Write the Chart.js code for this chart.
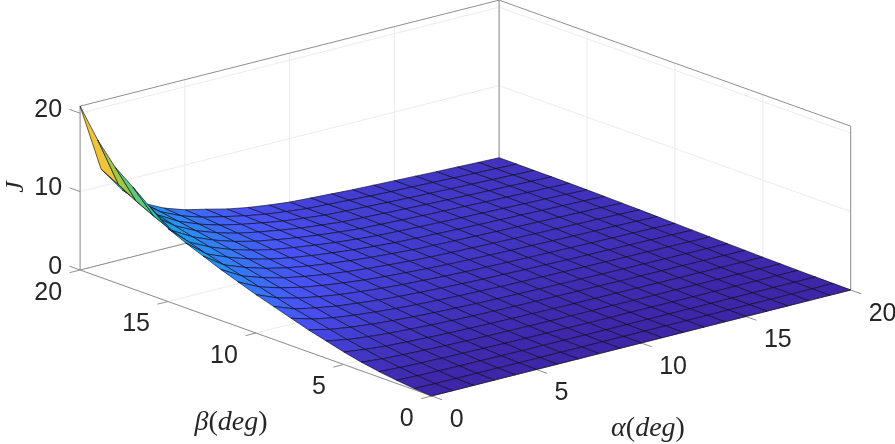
<!DOCTYPE html>
<html><head><meta charset="utf-8">
<style>html,body{margin:0;padding:0;background:#fff}canvas{display:block}</style>
<script src="https://cdn.jsdelivr.net/npm/chart.js@4"></script>
</head><body><canvas id="c" width="895" height="444"></canvas>
<script>
const alphaTicks=[0,5,10,15,20];
const betaTicks=[0,5,10,15,20];
const zTicks=[0,10,20];
const zTop=20.9;
// J[a][b]: a = alpha index 0..20, b = beta index 0..20
const J=[
[0,.15,.4,.7,1.1,1.6,2.2,2.8,3.5,4.2,4.9,5.7,6.5,7.4,8.3,9.3,11.2,13,14.7,17.4,20.9],
[0,.1,.3,.55,.85,1.25,1.7,2.2,2.7,3.2,3.8,4.4,5,5.6,6.2,6.9,7.6,8.6,9.7,11,12.2],
[0,.08,.25,.45,.7,1,1.4,1.8,2.2,2.65,3.1,3.6,4.1,4.6,5.1,5.6,6.1,6.7,7.3,8.1,8.9],
[0,.07,.2,.38,.6,.85,1.15,1.5,1.85,2.2,2.6,3,3.4,3.8,4.2,4.6,5,5.4,5.8,6.2,6.5],
[0,.06,.18,.33,.5,.72,1,1.28,1.58,1.9,2.2,2.55,2.9,3.2,3.5,3.85,4.15,4.45,4.75,5,5.2],
[0,.05,.15,.28,.43,.62,.85,1.1,1.35,1.62,1.9,2.2,2.48,2.75,3,3.25,3.5,3.72,3.95,4.15,4.3],
[0,.05,.13,.24,.38,.55,.75,.95,1.18,1.42,1.65,1.9,2.15,2.38,2.6,2.82,3.02,3.2,3.38,3.55,3.7],
[0,.04,.12,.22,.34,.49,.66,.85,1.05,1.25,1.45,1.67,1.88,2.08,2.27,2.45,2.6,2.75,2.88,2.98,3.05],
[0,.04,.1,.2,.3,.44,.6,.76,.94,1.12,1.3,1.48,1.66,1.83,1.98,2.12,2.25,2.35,2.44,2.51,2.56],
[0,.03,.09,.18,.27,.4,.54,.69,.85,1,1.16,1.32,1.48,1.62,1.75,1.87,1.97,2.05,2.12,2.17,2.2],
[0,.03,.08,.16,.25,.37,.5,.63,.77,.91,1.05,1.19,1.32,1.44,1.55,1.64,1.72,1.79,1.84,1.88,1.9],
[0,.03,.08,.15,.23,.34,.46,.58,.71,.84,.97,1.1,1.22,1.33,1.43,1.52,1.59,1.65,1.7,1.73,1.75],
[0,.03,.07,.14,.22,.32,.43,.54,.66,.78,.9,1.02,1.13,1.24,1.33,1.41,1.48,1.53,1.57,1.59,1.6],
[0,.03,.07,.13,.2,.3,.4,.5,.61,.72,.83,.94,1.05,1.15,1.23,1.31,1.37,1.41,1.44,1.45,1.45],
[0,.03,.06,.12,.19,.28,.37,.47,.57,.67,.78,.88,.98,1.07,1.15,1.22,1.27,1.31,1.33,1.34,1.35],
[0,.03,.06,.11,.18,.26,.34,.43,.53,.62,.72,.82,.91,1,1.07,1.13,1.18,1.21,1.23,1.24,1.25],
[0,.03,.06,.1,.17,.24,.32,.4,.49,.58,.67,.76,.85,.93,1,1.05,1.09,1.12,1.14,1.15,1.15],
[0,.03,.06,.1,.16,.22,.3,.37,.46,.54,.63,.71,.79,.86,.92,.97,1.01,1.03,1.05,1.05,1.05],
[0,.03,.06,.09,.15,.21,.28,.35,.43,.5,.58,.66,.73,.79,.85,.9,.93,.95,.96,.97,.97],
[0,.03,.06,.09,.14,.19,.26,.32,.39,.46,.53,.6,.67,.73,.78,.82,.85,.87,.88,.88,.88],
[0,.03,.06,.09,.13,.17,.23,.28,.34,.4,.46,.52,.58,.63,.68,.72,.75,.77,.78,.79,.8]
];
// MATLAB-style colormap stops
const parula=[[62,38,168],[72,82,244],[46,135,247],[18,177,214],[55,200,151],[171,199,57],[254,195,56],[249,251,21]];
// orthographic view parameters
const view={ox:431.7,oy:396,ax:20.95,ay:-5.3,bx:-17.58,by:-6.3,zy:-7.84};
const project=(a,b,z)=>({x:view.ox+view.ax*a+view.bx*b,y:view.oy+view.ay*a+view.by*b+view.zy*z});
function colourOf(v){
  const t=Math.min(.9999,Math.max(0,v/zTop))*(parula.length-1),i=Math.floor(t),f=t-i;
  const c=parula[i].map((p,k)=>Math.round(p+(parula[i+1][k]-p)*f));
  return `rgb(${c[0]},${c[1]},${c[2]})`;
}
const segs=(pts,color,width)=>({data:pts.map(p=>project(...p)),showLine:true,fill:false,borderColor:color,borderWidth:width,pointRadius:0,tension:0,clip:false});
const datasets=[];
// surface: first dataset is top-most, so nearest cells come first
const n=J.length-1;
for(let a=0;a<n;a++)for(let b=0;b<n;b++){
  datasets.push({data:[[a,b],[a+1,b],[a+1,b+1],[a,b+1],[a,b]].map(([p,q])=>project(p,q,J[p][q])),
    showLine:true,fill:'shape',backgroundColor:colourOf(J[a][b]),borderColor:'rgba(10,10,30,.85)',borderWidth:.75,pointRadius:0,tension:0,clip:false});
}
const box='#8f8f8f',grid='#ebebeb';
// box edges and ticks
const tl=.6,tb=.5;
[[[0,0,0],[20,0,0]],[[0,0,0],[0,20,0]],[[0,20,0],[20,20,0]],[[20,0,0],[20,20,0]],
 [[0,20,0],[0,20,zTop]],[[20,20,0],[20,20,zTop]],[[20,0,0],[20,0,zTop]],
 [[0,20,zTop],[20,20,zTop]],[[20,20,zTop],[20,0,zTop]]].forEach(s=>datasets.push(segs(s,box,1)));
alphaTicks.forEach(t=>datasets.push(segs([[t,0,0],[t,-tl,0]],box,1)));
betaTicks.forEach(t=>datasets.push(segs([[0,t,0],[-tb,t,0]],box,1)));
zTicks.forEach(t=>datasets.push(segs([[0,20,t],[0,20+tl,t]],box,1)));
// grid on walls and floor
alphaTicks.forEach(t=>{datasets.push(segs([[t,20,0],[t,20,zTop]],grid,1));datasets.push(segs([[t,0,0],[t,20,0]],grid,1));});
betaTicks.forEach(t=>{datasets.push(segs([[20,t,0],[20,t,zTop]],grid,1));datasets.push(segs([[0,t,0],[20,t,0]],grid,1));});
zTicks.forEach(t=>{datasets.push(segs([[0,20,t],[20,20,t]],grid,1));datasets.push(segs([[20,20,t],[20,0,t]],grid,1));});

const textPlugin={id:'texts',afterDraw(chart){
  const {ctx,scales:{x,y}}=chart;
  const at=p=>[x.getPixelForValue(p.x),y.getPixelForValue(p.y)];
  ctx.save();ctx.fillStyle='#262626';ctx.textBaseline='middle';
  const tick=(s,p,dx,dy,al)=>{const [px,py]=at(p);ctx.font='25px "Liberation Sans"';ctx.textAlign=al;ctx.fillText(s,px+dx,py+dy);};
  alphaTicks.forEach(t=>tick(String(t),project(t,0,0),18,24,'left'));
  betaTicks.forEach(t=>tick(String(t),project(0,t,0),-18,23,'right'));
  zTicks.forEach(t=>tick(String(t),project(0,20,t),-18,-3,'right'));
  const run=(parts,cx,cy,size)=>{
    let w=0;parts.forEach(([s,st])=>{ctx.font=`${st} ${size}px "Liberation Serif"`;w+=ctx.measureText(s).width;});
    let xx=-w/2;ctx.save();ctx.translate(cx,cy);ctx.textAlign='left';
    parts.forEach(([s,st])=>{ctx.font=`${st} ${size}px "Liberation Serif"`;ctx.fillText(s,xx,0);xx+=ctx.measureText(s).width;});
    ctx.restore();};
  run([['β','italic'],['(','normal'],['deg','italic'],[')','normal']],231,423,28);
  run([['α','italic'],['(','normal'],['deg','italic'],[')','normal']],648,429,28);
  ctx.save();ctx.translate(16,187);ctx.rotate(-Math.PI/2);ctx.textAlign='center';ctx.font='italic 26px "Liberation Serif"';ctx.fillText('J',0,0);ctx.restore();
  ctx.restore();
}};
new Chart(document.getElementById('c'),{type:'scatter',data:{datasets},plugins:[textPlugin],options:{
  responsive:false,animation:false,events:[],
  layout:{padding:0},
  plugins:{legend:{display:false},tooltip:{enabled:false},title:{display:false}},
  scales:{x:{type:'linear',min:0,max:895,display:false},y:{type:'linear',min:0,max:444,reverse:true,display:false}}
}});
</script></body></html>
